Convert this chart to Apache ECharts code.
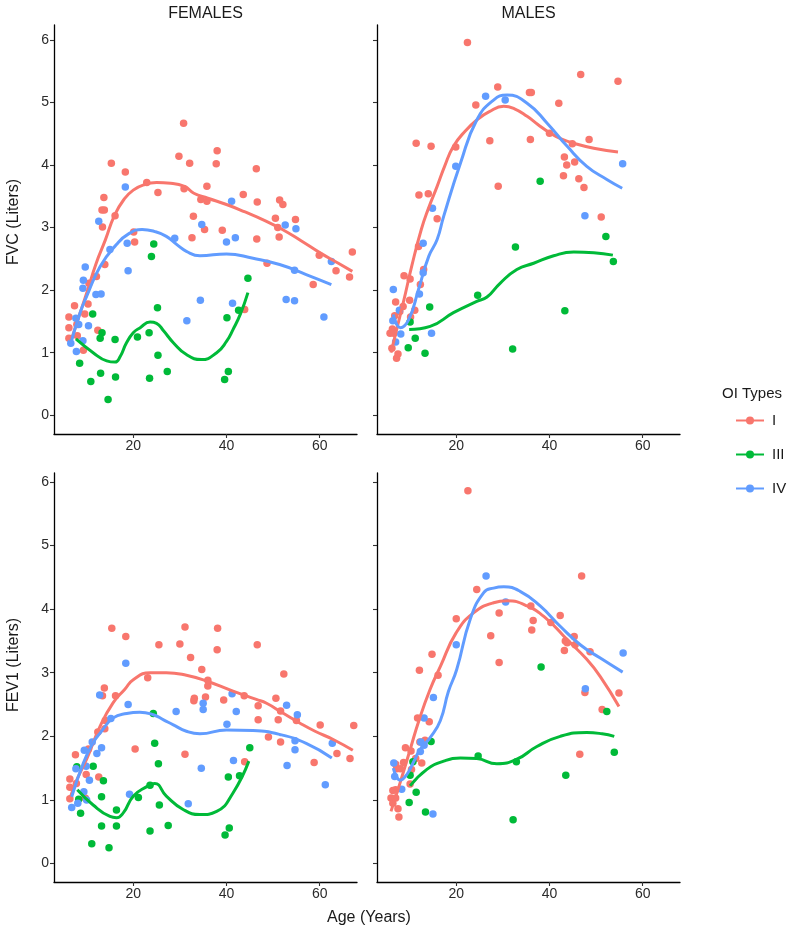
<!DOCTYPE html>
<html>
<head>
<meta charset="utf-8">
<script src="https://cdn.jsdelivr.net/npm/echarts@6/dist/echarts.min.js"></script>
<style>
html,body{margin:0;padding:0;background:#fff;}
#chart{width:800px;height:936px;}
</style>
</head>
<body>
<div id="chart"></div>
<script>
// ---------- DATA (age in years, value in liters) ----------
const typeNames = ['I', 'III', 'IV'];
const facetTitles = ['FEMALES', 'MALES'];
const rowTitles = ['FVC (Liters)', 'FEV1 (Liters)'];
const xTitle = 'Age (Years)';
const legendTitle = 'OI Types';
const xTicks = [20, 40, 60];
const yTicks = [0, 1, 2, 3, 4, 5, 6];

// FVC, females
const fvcF_I = [[6.2,1.57],[6.2,1.40],[6.2,1.23],[7.4,1.75],[7.9,1.45],[8.0,1.27],[9.3,1.04],[9.6,1.62],[10.3,1.78],[10.5,2.11],[12.1,2.22],[12.4,1.36],[13.9,2.41],[13.4,3.01],[13.3,3.28],[13.8,3.28],[13.7,3.48],[15.3,4.03],[16.1,3.19],[18.3,3.89],[20.1,2.93],[20.3,2.77],[22.9,3.72],[25.3,3.56],[29.8,4.14],[30.8,4.67],[30.9,3.62],[32.1,4.03],[32.6,2.84],[32.9,3.18],[34.5,3.45],[35.3,2.97],[35.8,3.66],[35.8,3.42],[37.8,4.02],[38.0,4.23],[39.1,2.96],[43.6,3.53],[43.9,1.69],[46.4,3.94],[46.5,2.82],[46.6,3.41],[48.7,2.43],[50.5,3.15],[51.0,3.00],[51.3,2.85],[51.4,3.44],[52.1,3.37],[54.8,3.13],[58.6,2.09],[59.9,2.56],[63.5,2.31],[66.4,2.21],[67.0,2.61]];
const fvcF_III = [[8.5,0.83],[10.9,0.54],[11.3,1.62],[12.9,1.23],[13.0,0.67],[13.3,1.32],[14.6,0.25],[16.1,1.21],[16.2,0.61],[20.9,1.25],[23.4,1.32],[23.5,0.59],[23.9,2.54],[24.4,2.74],[25.2,1.72],[25.3,0.96],[27.3,0.70],[39.6,0.57],[40.1,1.56],[40.4,0.70],[42.6,1.68],[44.6,2.19]];
const fvcF_IV = [[6.6,1.15],[7.7,1.55],[7.8,1.02],[8.3,1.45],[9.2,1.19],[9.2,2.03],[9.3,2.16],[9.7,2.37],[10.4,1.43],[12.0,1.93],[12.6,3.10],[13.1,1.94],[15.0,2.65],[18.3,3.65],[18.7,2.75],[18.9,2.31],[28.9,2.83],[31.5,1.51],[34.4,1.84],[34.7,3.05],[40.0,2.77],[41.1,3.42],[41.3,1.79],[41.9,2.84],[52.6,3.04],[52.8,1.85],[54.6,2.32],[54.6,1.83],[54.9,2.98],[60.9,1.57],[62.5,2.46]];
const fvcF_I_fit = [[6.6,1.18],[8,1.5],[10,1.95],[12,2.42],[14,2.8],[16,3.2],[18,3.45],[20,3.6],[22.5,3.69],[25,3.72],[28,3.71],[31,3.66],[33,3.55],[36,3.47],[40,3.37],[44,3.25],[48,3.12],[52,2.97],[56,2.79],[60,2.6],[64,2.43],[67,2.30]];
const fvcF_III_fit = [[7.7,1.22],[11.4,1.0],[14.3,0.87],[16.1,0.85],[17.2,0.94],[18.5,1.15],[20,1.32],[21.5,1.4],[23.6,1.49],[25,1.47],[26.5,1.35],[28.6,1.16],[31.4,0.97],[34.6,0.89],[37.9,1.0],[40,1.18],[41.4,1.37],[43,1.62],[44.6,1.96]];
const fvcF_IV_fit = [[6.6,1.15],[8.6,1.64],[10,1.9],[12.9,2.38],[16.4,2.73],[19,2.9],[21.9,2.97],[24.5,2.94],[27.1,2.86],[29.5,2.72],[31.4,2.62],[34.3,2.55],[40,2.58],[45.7,2.51],[51.4,2.41],[57.1,2.25],[62.5,2.09]];

// FVC, males
const fvcM_I = [[5.8,1.31],[6.2,1.07],[6.3,1.38],[6.6,1.31],[6.8,1.59],[7.0,1.81],[7.2,0.91],[7.5,0.98],[7.9,1.66],[8.6,1.74],[8.8,2.23],[10.0,1.84],[10.1,2.18],[10.2,1.57],[11.1,1.68],[11.4,4.35],[11.9,2.70],[12.0,3.52],[12.3,2.09],[13.0,2.33],[14.0,3.54],[14.6,4.30],[15.9,3.14],[19.9,4.29],[22.4,5.96],[24.2,4.96],[27.2,4.39],[28.9,5.25],[29.0,3.66],[35.7,5.16],[36.1,5.16],[35.9,4.41],[40.0,4.51],[42.0,4.99],[43.0,3.83],[43.2,4.13],[43.7,4.00],[44.9,4.34],[45.4,4.05],[46.3,3.78],[46.7,5.45],[47.4,3.64],[48.5,4.41],[51.1,3.17],[54.7,5.34]];
const fvcM_III = [[9.7,1.08],[10.1,1.49],[11.2,1.23],[13.3,0.99],[14.3,1.73],[24.6,1.92],[32.1,1.06],[32.7,2.69],[38.0,3.74],[43.3,1.67],[52.1,2.86],[53.7,2.46]];
const fvcM_IV = [[6.4,1.51],[6.5,2.01],[7.0,1.17],[7.8,1.68],[8.1,1.30],[12.1,1.94],[12.9,2.28],[12.9,2.75],[14.7,1.31],[14.9,3.31],[19.9,3.98],[26.3,5.10],[30.5,5.04],[47.6,3.19],[55.7,4.02]];
const fvcM_I_fit = [[6.0,1.0],[8.7,1.82],[10.5,2.4],[12.5,2.97],[14,3.3],[15.9,3.66],[17.5,3.98],[19.4,4.30],[22,4.55],[24.4,4.72],[27,4.85],[30.2,4.94],[32.5,4.9],[35.2,4.78],[37.5,4.65],[40.2,4.51],[42.5,4.42],[45.2,4.35],[49.5,4.27],[54.7,4.21]];
const fvcM_III_fit = [[9.9,1.37],[14.4,1.42],[19.4,1.64],[24.4,1.82],[26.6,1.89],[29.4,2.11],[33,2.33],[36.6,2.43],[40.9,2.55],[45.2,2.61],[49.5,2.60],[53.6,2.56]];
const fvcM_IV_fit = [[6.5,1.61],[8.0,1.40],[9.8,1.53],[11.9,2.01],[14.1,2.54],[15.9,2.81],[17.3,3.18],[20.9,4.03],[24.4,4.72],[28,5.04],[30.9,5.12],[35.2,4.99],[39.5,4.67],[43.8,4.30],[48,3.98],[52.3,3.77],[55.6,3.63]];

// FEV1, females
const fevF_I = [[6.4,1.33],[6.4,1.20],[6.4,1.02],[7.6,1.71],[7.8,1.26],[9.7,1.03],[9.9,1.40],[10.4,1.80],[12.4,2.07],[12.6,1.36],[13.4,2.64],[13.8,2.76],[13.9,2.12],[14.0,2.25],[15.4,3.70],[16.2,2.64],[18.4,3.57],[20.4,1.80],[23.1,2.92],[25.5,3.44],[30.0,3.45],[31.1,3.72],[31.1,1.72],[32.3,3.24],[33.0,2.56],[33.1,2.60],[34.7,3.05],[35.5,2.62],[36.0,2.88],[36.0,2.79],[38.0,3.36],[38.1,3.70],[39.4,2.57],[43.8,2.64],[43.9,1.60],[46.6,3.44],[46.8,2.48],[46.8,2.26],[49.0,1.99],[50.6,2.60],[51.1,2.26],[51.6,2.40],[51.6,1.91],[52.3,2.98],[55.0,2.25],[58.8,1.59],[60.1,2.18],[63.7,1.73],[66.5,1.65],[67.3,2.17]];
const fevF_III = [[7.9,1.52],[8.3,1.01],[8.7,0.79],[11.1,0.31],[11.4,1.53],[13.2,1.05],[13.2,0.59],[13.6,1.30],[14.8,0.25],[16.4,0.84],[16.4,0.59],[21.1,1.04],[23.6,1.23],[23.6,0.51],[24.3,2.36],[24.6,1.89],[25.4,1.57],[25.6,0.92],[27.5,0.60],[39.7,0.45],[40.4,1.36],[40.6,0.56],[42.8,1.38],[45.0,1.82]];
const fevF_IV = [[6.8,0.88],[7.7,1.49],[8.1,0.95],[9.4,1.13],[9.5,1.78],[9.9,1.53],[10.0,1.00],[10.6,1.31],[11.2,1.91],[12.2,1.73],[12.8,2.65],[13.2,1.82],[15.2,2.28],[18.4,3.15],[18.9,2.50],[19.2,1.09],[29.2,2.39],[31.8,0.94],[34.6,1.50],[35.0,2.52],[35.0,2.42],[40.1,2.19],[41.2,2.67],[41.5,1.62],[42.1,2.39],[52.9,2.49],[53.0,1.54],[54.7,1.93],[54.7,1.79],[55.2,2.34],[61.2,1.24],[62.7,1.89]];
const fevF_I_fit = [[6.3,1.0],[8,1.33],[10,1.64],[12.9,2.16],[15.7,2.53],[18.2,2.74],[20,2.89],[23.6,3.0],[27.1,3.0],[31.4,2.96],[35.7,2.87],[41.4,2.71],[46.4,2.58],[48.6,2.52],[52,2.37],[55.7,2.21],[59,2.08],[62.9,1.95],[67.1,1.78]];
const fevF_III_fit = [[8.0,1.16],[11.4,0.92],[15,0.74],[16.4,0.72],[17.9,0.80],[20,1.06],[22.9,1.21],[24.6,1.26],[27.1,1.06],[30.7,0.85],[34.3,0.77],[37.9,0.82],[41.4,1.11],[44.8,1.61]];
const fevF_IV_fit = [[6.8,1.05],[9.3,1.58],[11.4,1.90],[12.9,2.05],[15.7,2.29],[18.6,2.36],[21.4,2.38],[24.3,2.34],[26.5,2.26],[28.6,2.18],[31.4,2.08],[34.3,2.04],[40,2.10],[45.7,2.09],[51.4,2.03],[57.1,1.89],[62.6,1.66]];

// FEV1, males
const fevM_I = [[6.0,1.03],[6.4,1.15],[6.4,0.95],[7.0,1.56],[7.0,1.16],[7.0,1.03],[7.2,1.49],[7.5,0.86],[7.7,0.73],[8.0,1.49],[8.7,1.59],[9.1,1.82],[10.1,1.25],[10.3,1.77],[10.4,1.48],[11.3,1.65],[11.7,2.29],[12.1,3.04],[12.2,1.91],[12.6,1.58],[13.3,1.94],[14.2,2.23],[14.8,3.29],[16.1,2.96],[20.0,3.85],[22.5,5.86],[24.4,4.31],[27.4,3.58],[29.2,3.94],[29.2,3.16],[36.0,4.05],[36.2,3.67],[36.5,3.82],[40.3,3.79],[42.3,3.90],[43.2,3.35],[43.4,3.50],[43.8,3.47],[45.3,3.57],[45.5,3.44],[46.5,1.72],[46.9,4.52],[47.6,2.69],[48.7,3.33],[51.3,2.42],[54.9,2.68]];
const fevM_III = [[9.9,0.96],[10.1,1.39],[10.7,1.60],[11.4,1.12],[13.4,0.81],[14.6,1.92],[24.7,1.69],[32.2,0.69],[32.9,1.60],[38.2,3.09],[43.5,1.39],[52.3,2.39],[53.9,1.75]];
const fevM_IV = [[6.6,1.58],[6.8,1.37],[8.3,1.17],[12.3,1.76],[12.4,1.91],[13.1,1.86],[13.1,2.29],[15.0,0.78],[15.1,2.61],[20.0,3.44],[26.4,4.52],[30.6,4.11],[47.7,2.75],[55.8,3.31]];
const fevM_I_fit = [[6.0,0.82],[8,1.28],[10.1,1.79],[12,2.25],[14.4,2.74],[16.6,3.10],[20,3.63],[23.7,3.94],[28,4.10],[30.9,4.13],[35.2,4.05],[39.5,3.84],[43.8,3.52],[48,3.21],[50.9,2.94],[54.9,2.47]];
const fevM_III_fit = [[10.1,1.22],[13.7,1.48],[17.3,1.61],[20.9,1.66],[24.4,1.65],[28.7,1.57],[33,1.64],[37.3,1.84],[42.3,2.00],[48,2.06],[51.3,2.04],[53.9,2.00]];
const fevM_IV_fit = [[6.5,1.50],[8.0,1.31],[9.4,1.40],[11,1.62],[12.3,1.80],[14.4,1.98],[16.6,2.25],[18.3,2.70],[20.1,3.05],[23,3.84],[25.9,4.26],[28,4.33],[30.2,4.35],[33.7,4.28],[38,4.05],[42.3,3.73],[46.6,3.44],[50.9,3.23],[55.7,3.01]];

// ---------- CHART ----------
const colors = ['#F8766D', '#00BA38', '#619CFF'];
const FONT = '"Liberation Sans", Arial, Helvetica, sans-serif';

const panels = [
  { pts: [fvcF_I, fvcF_III, fvcF_IV], fit: [fvcF_I_fit, fvcF_III_fit, fvcF_IV_fit] },
  { pts: [fvcM_I, fvcM_III, fvcM_IV], fit: [fvcM_I_fit, fvcM_III_fit, fvcM_IV_fit] },
  { pts: [fevF_I, fevF_III, fevF_IV], fit: [fevF_I_fit, fevF_III_fit, fevF_IV_fit] },
  { pts: [fevM_I, fevM_III, fevM_IV], fit: [fevM_I_fit, fevM_III_fit, fevM_IV_fit] }
];

const gridPos = [
  { left: 54, top: 25, width: 303, height: 409 },
  { left: 377, top: 25, width: 303, height: 409 },
  { left: 54, top: 473, width: 303, height: 409 },
  { left: 377, top: 473, width: 303, height: 409 }
];
const yRanges = [[-0.3, 6.24], [-0.3, 6.24], [-0.29, 6.14], [-0.29, 6.14]];

const axisLine = { show: true, onZero: false, lineStyle: { color: '#000', width: 1.3 } };
const xAxes = gridPos.map((g, i) => ({
  type: 'value', gridIndex: i, min: 3, max: 68, position: 'bottom',
  axisLine: axisLine,
  axisTick: { show: true, length: 4, customValues: xTicks, lineStyle: { color: '#333', width: 1.1 } },
  axisLabel: { show: true, customValues: xTicks, color: '#2b2b2b', fontSize: 14, fontFamily: FONT, margin: 5 },
  splitLine: { show: false }
}));
const yAxes = gridPos.map((g, i) => ({
  type: 'value', gridIndex: i, min: yRanges[i][0], max: yRanges[i][1], position: 'left',
  axisLine: axisLine,
  axisTick: { show: true, length: 4, customValues: yTicks, lineStyle: { color: '#333', width: 1.1 } },
  axisLabel: { show: i % 2 === 0, customValues: yTicks, color: '#2b2b2b', fontSize: 14, fontFamily: FONT, margin: 5 },
  splitLine: { show: false }
}));

const series = [];
// lines first so the legend uses a line icon
panels.forEach((p, i) => {
  p.fit.forEach((d, k) => {
    series.push({
      type: 'line', name: typeNames[k], xAxisIndex: i, yAxisIndex: i,
      data: d, smooth: 0.5, showSymbol: false, symbol: 'circle', symbolSize: 7,
      lineStyle: { width: 3, color: colors[k] }, itemStyle: { color: colors[k] },
      z: 3, silent: true
    });
  });
});
panels.forEach((p, i) => {
  p.pts.forEach((d, k) => {
    series.push({
      type: 'scatter', name: typeNames[k], xAxisIndex: i, yAxisIndex: i,
      data: d, symbol: 'circle', symbolSize: 7.5,
      itemStyle: { color: colors[k], opacity: 1 }, z: 2, silent: true
    });
  });
});

const graphics = [
  { type: 'text', x: 205.5, y: 14, style: { text: facetTitles[0], font: '16px ' + FONT, fill: '#1a1a1a', textAlign: 'center', textVerticalAlign: 'middle' } },
  { type: 'text', x: 528.5, y: 14, style: { text: facetTitles[1], font: '16px ' + FONT, fill: '#1a1a1a', textAlign: 'center', textVerticalAlign: 'middle' } },
  { type: 'text', x: 14, y: 222, rotation: Math.PI / 2, style: { text: rowTitles[0], font: '16px ' + FONT, fill: '#1a1a1a', textAlign: 'center', textVerticalAlign: 'middle' } },
  { type: 'text', x: 14, y: 665, rotation: Math.PI / 2, style: { text: rowTitles[1], font: '16px ' + FONT, fill: '#1a1a1a', textAlign: 'center', textVerticalAlign: 'middle' } },
  { type: 'text', x: 369, y: 918, style: { text: xTitle, font: '16px ' + FONT, fill: '#1a1a1a', textAlign: 'center', textVerticalAlign: 'middle' } },
  { type: 'text', x: 722, y: 394, style: { text: legendTitle, font: '15px ' + FONT, fill: '#1a1a1a', textAlign: 'left', textVerticalAlign: 'middle' } }
];

const chart = echarts.init(document.getElementById('chart'), null, { renderer: 'canvas' });
chart.setOption({
  animation: false,
  backgroundColor: '#ffffff',
  grid: gridPos,
  xAxis: xAxes,
  yAxis: yAxes,
  legend: {
    orient: 'vertical', left: 735, top: 413, padding: 0,
    itemWidth: 28, itemHeight: 10, itemGap: 19,
    data: typeNames, selectedMode: false,
    textStyle: { fontSize: 15, color: '#1a1a1a', fontFamily: FONT, padding: [0, 0, 0, 3] }
  },
  graphic: graphics,
  series: series
});
</script>
</body>
</html>
